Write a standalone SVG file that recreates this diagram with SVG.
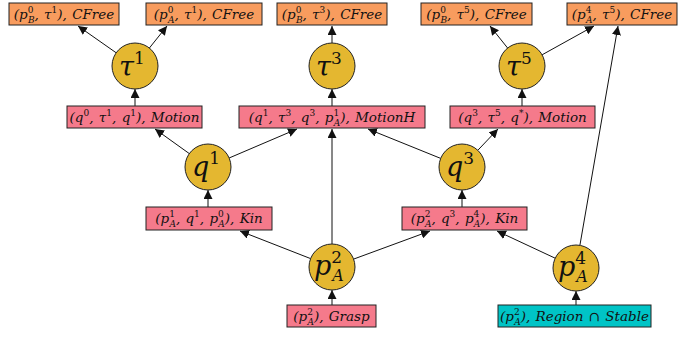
<svg xmlns="http://www.w3.org/2000/svg" width="694" height="342" viewBox="0 0 694 342">
<style>
.bo{fill:#F89C5E;stroke:#222;stroke-width:1}
.bp{fill:#F57A8B;stroke:#222;stroke-width:1}
.bt{fill:#00C4C6;stroke:#222;stroke-width:1}
.c{fill:#E4B730;stroke:#222;stroke-width:1}
.t{font-family:"DejaVu Serif",serif;font-style:italic;font-size:13.5px;fill:#111;text-anchor:middle;word-spacing:1px}
.ct{font-family:"DejaVu Serif",serif;font-style:italic;font-size:27px;fill:#111}
.s{font-size:9px;font-style:normal}
.si{font-size:9px}
.cs{font-size:17px;font-style:normal}
.csi{font-size:16px}
.e{stroke:#111;stroke-width:1;fill:none;marker-end:url(#ah)}
</style>
<defs>
<marker id="ah" viewBox="0 0 10 10" refX="10" refY="5" markerWidth="9" markerHeight="9" markerUnits="userSpaceOnUse" orient="auto">
<path d="M0,0 L10,5 L0,10 z" fill="#111"/>
</marker>
</defs>
<g id="connectors">
<line class="e" x1="116.2" y1="52.8" x2="78" y2="26"/>
<line class="e" x1="149.4" y1="48" x2="167" y2="26"/>
<line class="e" x1="332" y1="43" x2="332" y2="26"/>
<line class="e" x1="507.6" y1="48" x2="490" y2="26"/>
<line class="e" x1="542.1" y1="54.8" x2="594" y2="26"/>
<line class="e" x1="579.9" y1="245.3" x2="618" y2="26"/>
<line class="e" x1="135" y1="106" x2="135" y2="89"/>
<line class="e" x1="189.3" y1="153.6" x2="155" y2="129"/>
<line class="e" x1="229.1" y1="158" x2="297" y2="129"/>
<line class="e" x1="332" y1="106" x2="332" y2="89"/>
<line class="e" x1="440.7" y1="158.4" x2="368" y2="129"/>
<line class="e" x1="477.8" y1="150.3" x2="498" y2="129"/>
<line class="e" x1="522" y1="106" x2="522" y2="89"/>
<line class="e" x1="208" y1="207" x2="208" y2="190"/>
<line class="e" x1="462" y1="207" x2="462" y2="190"/>
<line class="e" x1="310.6" y1="258.6" x2="240" y2="231"/>
<line class="e" x1="332" y1="244" x2="332" y2="129"/>
<line class="e" x1="353.6" y1="259.1" x2="430" y2="231"/>
<line class="e" x1="555.2" y1="258.2" x2="497" y2="231"/>
<line class="e" x1="332" y1="305" x2="332" y2="290"/>
<line class="e" x1="576" y1="305" x2="576" y2="291"/>
</g>
<g id="cfree1"><rect class="bo" x="9" y="3" width="110" height="22"/><text class="t" x="64" y="19">(p<tspan class="s" dy="-6">0</tspan><tspan class="si" dx="-5.5" dy="10">B</tspan><tspan dy="-4">, τ</tspan><tspan class="s" dy="-6">1</tspan><tspan dy="6">), CFree</tspan></text></g>
<g id="cfree2"><rect class="bo" x="146" y="3" width="116" height="22"/><text class="t" x="204" y="19">(p<tspan class="s" dy="-6">0</tspan><tspan class="si" dx="-5.5" dy="10">A</tspan><tspan dy="-4">, τ</tspan><tspan class="s" dy="-6">1</tspan><tspan dy="6">), CFree</tspan></text></g>
<g id="cfree3"><rect class="bo" x="277" y="3" width="110" height="22"/><text class="t" x="332" y="19">(p<tspan class="s" dy="-6">0</tspan><tspan class="si" dx="-5.5" dy="10">B</tspan><tspan dy="-4">, τ</tspan><tspan class="s" dy="-6">3</tspan><tspan dy="6">), CFree</tspan></text></g>
<g id="cfree4"><rect class="bo" x="421" y="3" width="111" height="22"/><text class="t" x="476.5" y="19">(p<tspan class="s" dy="-6">0</tspan><tspan class="si" dx="-5.5" dy="10">B</tspan><tspan dy="-4">, τ</tspan><tspan class="s" dy="-6">5</tspan><tspan dy="6">), CFree</tspan></text></g>
<g id="cfree5"><rect class="bo" x="567" y="3" width="110" height="22"/><text class="t" x="622" y="19">(p<tspan class="s" dy="-6">4</tspan><tspan class="si" dx="-5.5" dy="10">A</tspan><tspan dy="-4">, τ</tspan><tspan class="s" dy="-6">5</tspan><tspan dy="6">), CFree</tspan></text></g>
<g id="tau1"><circle class="c" cx="135" cy="66" r="23"/><text class="ct" x="119" y="76">τ<tspan class="cs" dy="-12">1</tspan></text></g>
<g id="tau3"><circle class="c" cx="332" cy="66" r="23"/><text class="ct" x="316" y="76">τ<tspan class="cs" dy="-12">3</tspan></text></g>
<g id="tau5"><circle class="c" cx="522" cy="66" r="23"/><text class="ct" x="506" y="76">τ<tspan class="cs" dy="-12">5</tspan></text></g>
<g id="motion1"><rect class="bp" x="67" y="106" width="135" height="22"/><text class="t" x="134.5" y="122">(q<tspan class="s" dy="-6">0</tspan><tspan dy="6">, τ</tspan><tspan class="s" dy="-6">1</tspan><tspan dy="6">, q</tspan><tspan class="s" dy="-6">1</tspan><tspan dy="6">), Motion</tspan></text></g>
<g id="motionH"><rect class="bp" x="239" y="106" width="186" height="22"/><text class="t" x="332" y="122">(q<tspan class="s" dy="-6">1</tspan><tspan dy="6">, τ</tspan><tspan class="s" dy="-6">3</tspan><tspan dy="6">, q</tspan><tspan class="s" dy="-6">3</tspan><tspan dy="6">, p</tspan><tspan class="s" dy="-6">1</tspan><tspan class="si" dx="-5.5" dy="10">A</tspan><tspan dy="-4">), MotionH</tspan></text></g>
<g id="motion3"><rect class="bp" x="450" y="106" width="145" height="22"/><text class="t" x="522.5" y="122">(q<tspan class="s" dy="-6">3</tspan><tspan dy="6">, τ</tspan><tspan class="s" dy="-6">5</tspan><tspan dy="6">, q</tspan><tspan class="s" dy="-6">*</tspan><tspan dy="6">), Motion</tspan></text></g>
<g id="q1"><circle class="c" cx="208" cy="167" r="23"/><text class="ct" x="192" y="176">q<tspan class="cs" dy="-12">1</tspan></text></g>
<g id="q3"><circle class="c" cx="462" cy="167" r="23"/><text class="ct" x="446" y="176">q<tspan class="cs" dy="-12">3</tspan></text></g>
<g id="kin1"><rect class="bp" x="146" y="207" width="126" height="23"/><text class="t" x="209" y="223">(p<tspan class="s" dy="-6">1</tspan><tspan class="si" dx="-5.5" dy="10">A</tspan><tspan dy="-4">, q</tspan><tspan class="s" dy="-6">1</tspan><tspan dy="6">, p</tspan><tspan class="s" dy="-6">0</tspan><tspan class="si" dx="-5.5" dy="10">A</tspan><tspan dy="-4">), Kin</tspan></text></g>
<g id="kin2"><rect class="bp" x="402" y="207" width="125" height="23"/><text class="t" x="464.5" y="223">(p<tspan class="s" dy="-6">2</tspan><tspan class="si" dx="-5.5" dy="10">A</tspan><tspan dy="-4">, q</tspan><tspan class="s" dy="-6">3</tspan><tspan dy="6">, p</tspan><tspan class="s" dy="-6">4</tspan><tspan class="si" dx="-5.5" dy="10">A</tspan><tspan dy="-4">), Kin</tspan></text></g>
<g id="pA2"><circle class="c" cx="332" cy="267" r="23"/><text class="ct" x="314" y="275">p<tspan class="cs" dy="-12">2</tspan><tspan class="csi" dx="-10" dy="18">A</tspan></text></g>
<g id="pA4"><circle class="c" cx="576" cy="268" r="23"/><text class="ct" x="558" y="276">p<tspan class="cs" dy="-12">4</tspan><tspan class="csi" dx="-10" dy="18">A</tspan></text></g>
<g id="grasp"><rect class="bp" x="287" y="305" width="89" height="22"/><text class="t" x="331.5" y="321">(p<tspan class="s" dy="-6">2</tspan><tspan class="si" dx="-5.5" dy="10">A</tspan><tspan dy="-4">), Grasp</tspan></text></g>
<g id="region"><rect class="bt" x="498" y="305" width="153" height="22"/><text class="t" x="574.5" y="321">(p<tspan class="s" dy="-6">2</tspan><tspan class="si" dx="-5.5" dy="10">A</tspan><tspan dy="-4">), Region ∩ Stable</tspan></text></g>
</svg>
